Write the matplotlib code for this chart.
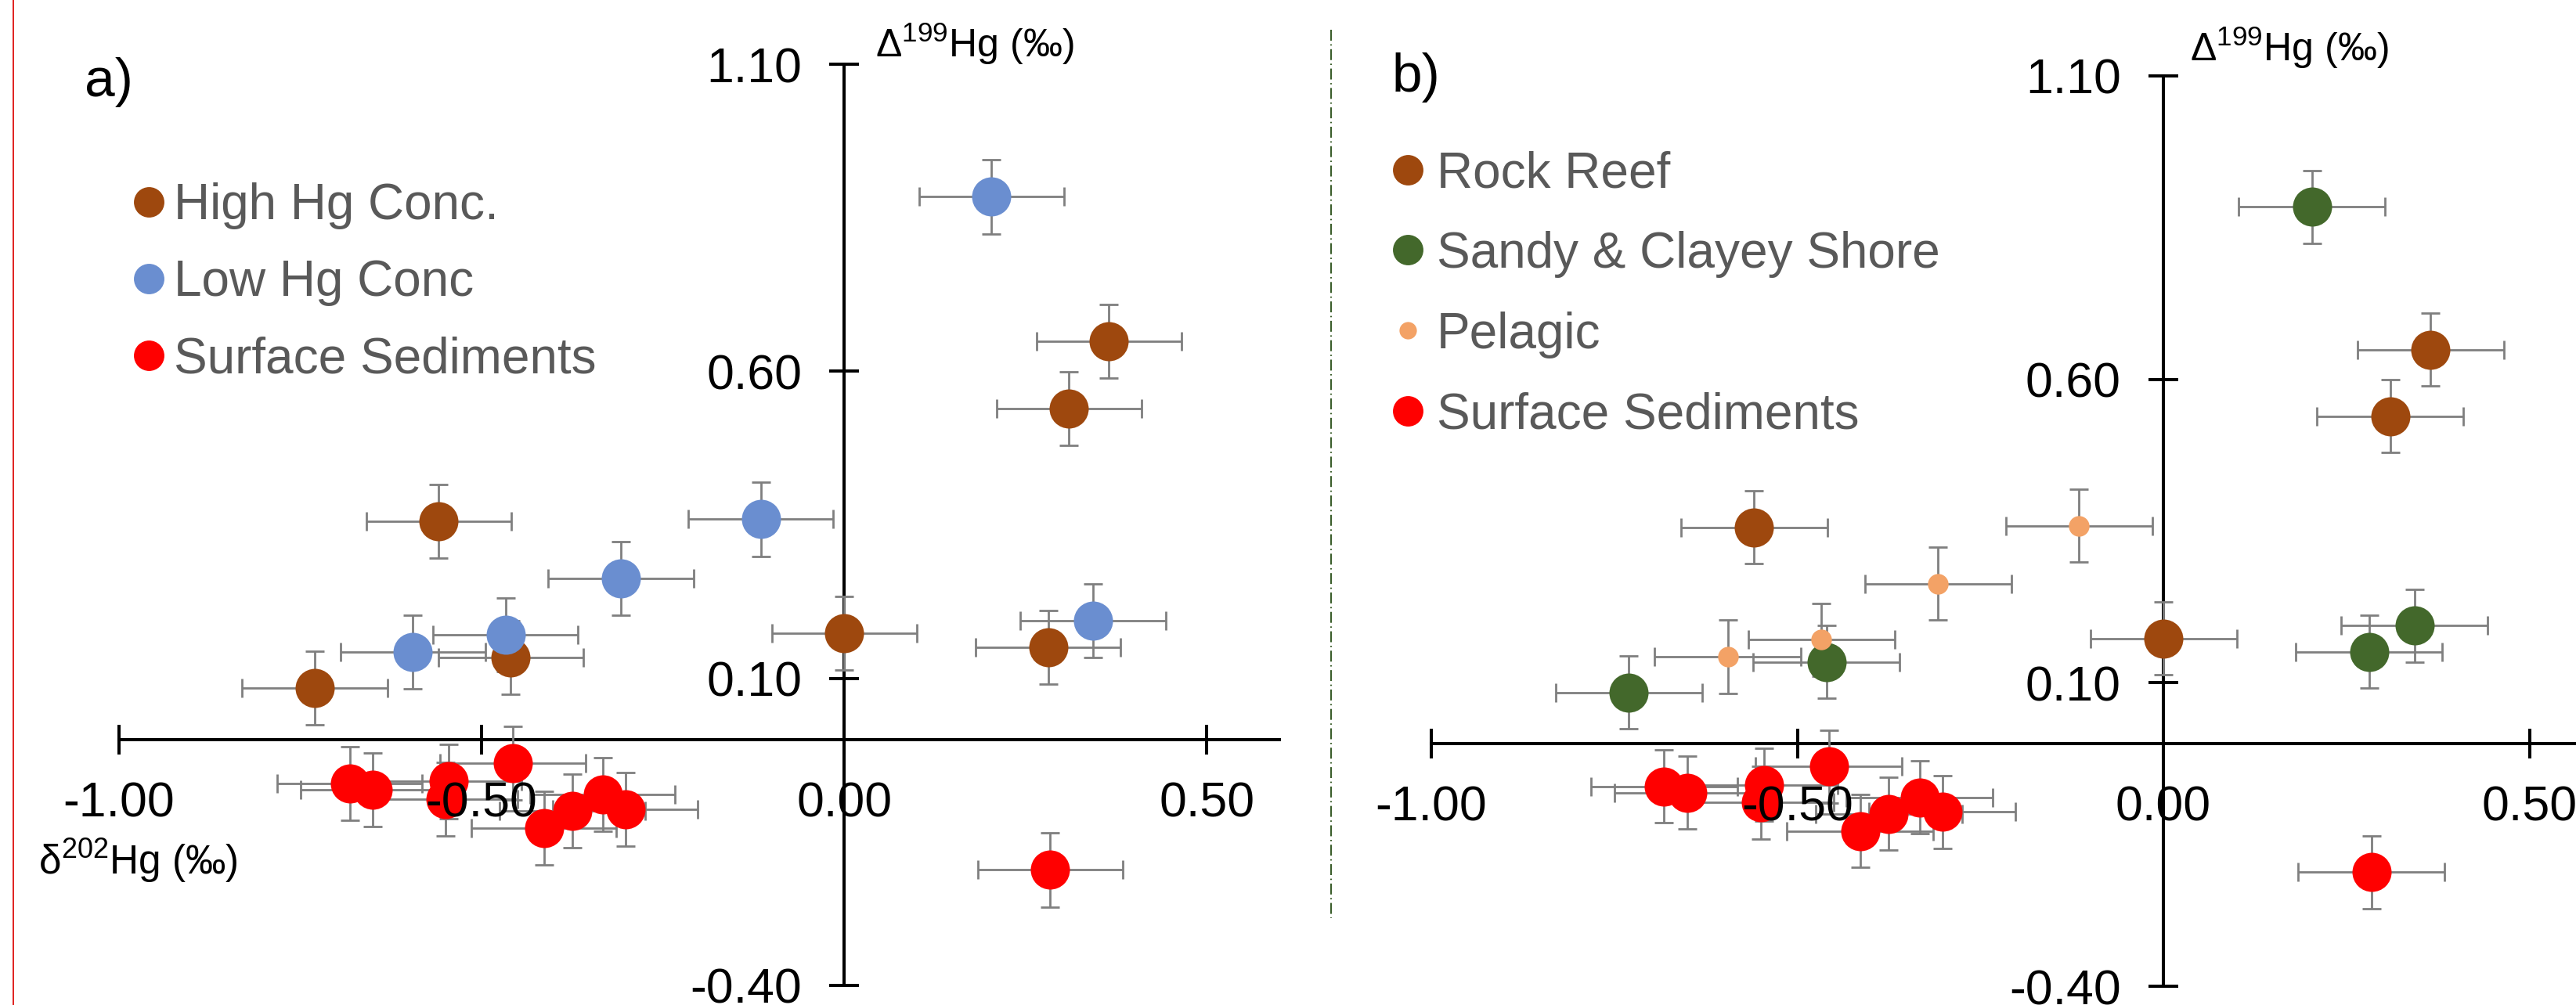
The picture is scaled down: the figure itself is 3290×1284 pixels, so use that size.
import matplotlib
matplotlib.use('Agg')
import matplotlib.pyplot as plt
from matplotlib.lines import Line2D
from matplotlib.ticker import FixedLocator, StrMethodFormatter

plt.rcParams['font.family'] = ['Liberation Sans', 'DejaVu Sans']
plt.rcParams['axes.unicode_minus'] = False
plt.rcParams['mathtext.fontset'] = 'custom'
plt.rcParams['mathtext.rm'] = 'Liberation Sans'
plt.rcParams['mathtext.it'] = 'Liberation Sans:italic'
plt.rcParams['mathtext.bf'] = 'Liberation Sans:bold'

# ---------------- data ----------------
# panel a
high_x = [0.365, 0.310, -0.559, 0.000, 0.281, -0.460, -0.730]
high_y = [0.649, 0.539, 0.356, 0.173, 0.151, 0.134, 0.084]
low_x = [0.203, -0.115, -0.308, -0.467, -0.595, 0.343]
low_y = [0.884, 0.359, 0.263, 0.171, 0.143, 0.194]
sed_x = [-0.457, -0.682, -0.650, -0.545, -0.550, -0.414, -0.375, -0.333, -0.302, 0.284]
sed_y = [-0.038, -0.071, -0.081, -0.068, -0.097, -0.144, -0.116, -0.089, -0.113, -0.212]
# panel b
rock_x = [0.365, 0.310, -0.559, 0.000]
rock_y = [0.649, 0.539, 0.356, 0.173]
shore_x = [0.203, 0.281, 0.343, -0.460, -0.730]
shore_y = [0.884, 0.151, 0.194, 0.134, 0.084]
pelagic_x = [-0.115, -0.308, -0.467, -0.595]
pelagic_y = [0.359, 0.263, 0.171, 0.143]

x_err = 0.10
y_err = 0.06

x_ticks = [-1.0, -0.5, 0.0, 0.5]
y_ticks = [-0.4, 0.1, 0.6, 1.1]

labels_a = ['High Hg Conc.', 'Low Hg Conc', 'Surface Sediments']
labels_b = ['Rock Reef', 'Sandy & Clayey Shore', 'Pelagic', 'Surface Sediments']

BROWN = '#9E480E'
BLUE = '#6A8ED0'
RED = '#FF0000'
GREEN = '#43682B'
ORANGE = '#F3A266'
ECOL = '#7F7F7F'
TXT = '#595959'

W, H = 3291, 1284
fig = plt.figure(figsize=(W / 100, H / 100), dpi=100)


def setup(ax):
    ax.set_xlim(-1.0, 0.6)
    ax.set_ylim(-0.4, 1.1)
    for s in ['top', 'right']:
        ax.spines[s].set_visible(False)
    ax.spines['left'].set_position(('data', 0))
    ax.spines['bottom'].set_position(('data', 0))
    for s in ['left', 'bottom']:
        ax.spines[s].set_linewidth(2.9)
        ax.spines[s].set_zorder(1)
    ax.xaxis.set_major_locator(FixedLocator(x_ticks))
    ax.yaxis.set_major_locator(FixedLocator(y_ticks))
    ax.xaxis.set_major_formatter(StrMethodFormatter('{x:.2f}'))
    ax.yaxis.set_major_formatter(StrMethodFormatter('{x:.2f}'))
    ax.tick_params(axis='both', direction='inout', length=28, width=2.9,
                   labelsize=45, colors='black')
    ax.tick_params(axis='x', pad=24)
    ax.tick_params(axis='y', pad=25)
    ax.xaxis.set_zorder(5)
    ax.yaxis.set_zorder(5)
    ax.patch.set_visible(False)


def series(ax, xs, ys, color, ms):
    ax.errorbar(xs, ys, xerr=x_err, yerr=y_err, fmt='none', ecolor=ECOL,
                elinewidth=2.0, capsize=8.5, capthick=2.0, zorder=2)
    ax.plot(xs, ys, 'o', color=color, ms=ms, mew=0, zorder=3)


def handle(color, ms):
    return Line2D([], [], marker='o', ls='none', color=color, ms=ms, mew=0)


# ---------------- panel a ----------------
axa = fig.add_axes([152 / W, 25 / H, 1482 / W, 1177 / H])
setup(axa)
series(axa, high_x, high_y, BROWN, 36)
series(axa, low_x, low_y, BLUE, 36)
series(axa, sed_x, sed_y, RED, 36)
axa.legend([handle(BROWN, 28), handle(BLUE, 28), handle(RED, 28)], labels_a,
           loc='upper left', bbox_to_anchor=(171 / W, 1 - 233 / H),
           bbox_transform=fig.transFigure, frameon=False, fontsize=46,
           handlelength=0.6, handletextpad=0.2, labelspacing=0.6,
           borderpad=0, borderaxespad=0, labelcolor=TXT)

# ---------------- panel b ----------------
axb = fig.add_axes([1828 / W, 24 / H, 1496 / W, 1163 / H])
setup(axb)
series(axb, rock_x, rock_y, BROWN, 36)
series(axb, shore_x, shore_y, GREEN, 36)
series(axb, pelagic_x, pelagic_y, ORANGE, 19)
series(axb, sed_x, sed_y, RED, 36)
axb.legend([handle(BROWN, 28), handle(GREEN, 28), handle(ORANGE, 16), handle(RED, 28)],
           labels_b, loc='upper left', bbox_to_anchor=(1779 / W, 1 - 192 / H),
           bbox_transform=fig.transFigure, frameon=False, fontsize=46,
           handlelength=0.6, handletextpad=0.28, labelspacing=0.67,
           borderpad=0, borderaxespad=0, labelcolor=TXT)

# ---------------- annotations ----------------
fig.text(108 / W, 1 - 123 / H, 'a)', fontsize=50, ha='left', va='baseline')
fig.text(1778 / W, 1 - 117 / H, 'b)', fontsize=50, ha='left', va='baseline')
fig.text(1118 / W, 1 - 73 / H, r'$\mathregular{\Delta^{199}}$Hg (‰)', fontsize=36,
         ha='left', va='baseline')
fig.text(2797 / W, 1 - 78 / H, r'$\mathregular{\Delta^{199}}$Hg (‰)', fontsize=36,
         ha='left', va='baseline')
fig.text(49 / W, 1 - 1117 / H, r'$\mathregular{\delta^{202}}$Hg (‰)', fontsize=37,
         ha='left', va='baseline')

# left red border line and dash-dot divider
fig.add_artist(Line2D([17 / W, 17 / W], [0, 1], transform=fig.transFigure,
                      color='#E0201E', lw=1.4))
fig.add_artist(Line2D([1700 / W, 1700 / W], [1 - 38 / H, 1 - 1173 / H],
                      transform=fig.transFigure, color='#3B5E2B', lw=1.5,
                      ls=(0, (6.7, 2.2, 0.8, 2.2))))

fig.savefig('out.png', dpi=100)
